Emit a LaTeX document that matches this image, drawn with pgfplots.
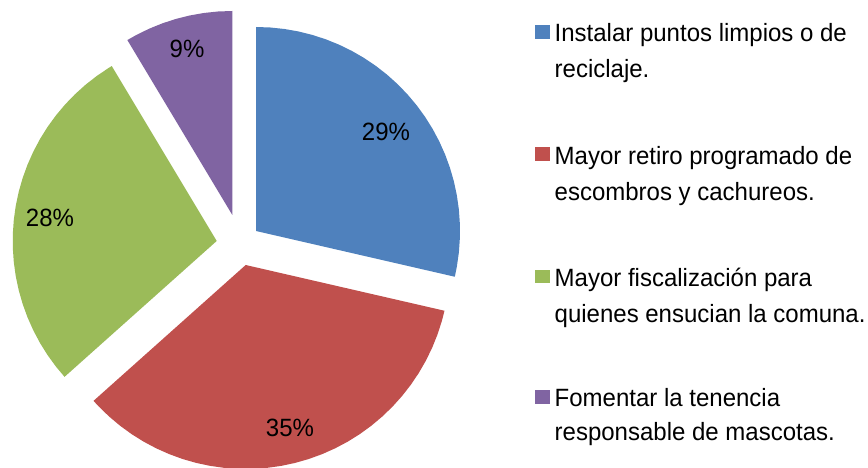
\documentclass[border=0pt]{standalone}
\usepackage{fontspec}
\setmainfont{Liberation Sans}[FakeStretch=0.96]
\usepackage{pgfplots}
\pgfplotsset{compat=1.18}
\usepgfplotslibrary{polar}
\definecolor{cblue}{HTML}{4F81BD}
\definecolor{cred}{HTML}{C0504D}
\definecolor{cgreen}{HTML}{9BBB59}
\definecolor{cpurple}{HTML}{8064A2}
\newcommand\lf{\fontsize{25}{30}\selectfont}
\begin{document}
\begin{tikzpicture}
\useasboundingbox (0pt,0pt) rectangle (868pt,468pt);
% shares: 28.6, 34.8, 28.0, 8.6 (percent) -> slice boundaries at 90, -12.96, -138.24, -239.04, -270 degrees
\begin{polaraxis}[hide axis, scale only axis, width=408pt, height=408pt,
  ymin=0, ymax=204, xmin=0, xmax=360,
  at={(238.7pt,223.5pt)}, anchor=center, clip=false]
\addplot[fill=cblue, draw=none, xshift=17.3pt, yshift=13.5pt] coordinates {
(0,0) (90,204) (86,204) (82,204) (78,204) (74,204) (70,204) (66,204) (62,204) (58,204) (54,204) (50,204) (46,204) (42,204) (38,204) (34,204) (30,204) (26,204) (22,204) (18,204) (14,204) (10,204) (6,204) (2,204) (-2,204) (-6,204) (-10,204) (-12.96,204) (0,0)};
\addplot[fill=cred, draw=none, xshift=7pt, yshift=-20.5pt] coordinates {
(0,0) (-12.96,204) (-16,204) (-20,204) (-24,204) (-28,204) (-32,204) (-36,204) (-40,204) (-44,204) (-48,204) (-52,204) (-56,204) (-60,204) (-64,204) (-68,204) (-72,204) (-76,204) (-80,204) (-84,204) (-88,204) (-92,204) (-96,204) (-100,204) (-104,204) (-108,204) (-112,204) (-116,204) (-120,204) (-124,204) (-128,204) (-132,204) (-136,204) (-138.24,204) (0,0)};
\addplot[fill=cgreen, draw=none, xshift=-22pt, yshift=3.5pt] coordinates {
(0,0) (-138.24,204) (-142,204) (-146,204) (-150,204) (-154,204) (-158,204) (-162,204) (-166,204) (-170,204) (-174,204) (-178,204) (-182,204) (-186,204) (-190,204) (-194,204) (-198,204) (-202,204) (-206,204) (-210,204) (-214,204) (-218,204) (-222,204) (-226,204) (-230,204) (-234,204) (-238,204) (-239.04,204) (0,0)};
\addplot[fill=cpurple, draw=none, xshift=-6.4pt, yshift=29.5pt] coordinates {
(0,0) (-239.04,204) (-242,204) (-246,204) (-250,204) (-254,204) (-258,204) (-262,204) (-266,204) (-270,204) (0,0)};
\end{polaraxis}
% data labels
\node[font=\lf, inner sep=0pt] at (386pt,336pt) {29\%};
\node[font=\lf, inner sep=0pt] at (290pt,40.5pt) {35\%};
\node[font=\lf, inner sep=0pt] at (50pt,250pt) {28\%};
\node[font=\lf, inner sep=0pt] at (187pt,419pt) {9\%};
% legend
\fill[cblue]   (535pt,429.3pt) rectangle (549.5pt,442.7pt);
\fill[cred]    (535pt,307.3pt) rectangle (549.5pt,320.7pt);
\fill[cgreen]  (535pt,184.5pt) rectangle (549.5pt,198pt);
\fill[cpurple] (535pt,64pt)  rectangle (549.5pt,77.5pt);
\node[font=\lf, inner sep=0pt, anchor=base west] at (554.5pt,426.3pt) {Instalar puntos limpios o de};
\node[font=\lf, inner sep=0pt, anchor=base west] at (554.5pt,390.5pt) {reciclaje.};
\node[font=\lf, inner sep=0pt, anchor=base west] at (554.5pt,303pt) {Mayor retiro programado de};
\node[font=\lf, inner sep=0pt, anchor=base west] at (554.5pt,267pt) {escombros y cachureos.};
\node[font=\lf, inner sep=0pt, anchor=base west] at (554.5pt,181pt) {Mayor fiscalización para};
\node[font=\lf, inner sep=0pt, anchor=base west] at (554.5pt,145pt) {quienes ensucian la comuna.};
\node[font=\lf, inner sep=0pt, anchor=base west] at (554.5pt,61pt) {Fomentar la tenencia};
\node[font=\lf, inner sep=0pt, anchor=base west] at (554.5pt,27pt) {responsable de mascotas.};
\end{tikzpicture}
\end{document}
